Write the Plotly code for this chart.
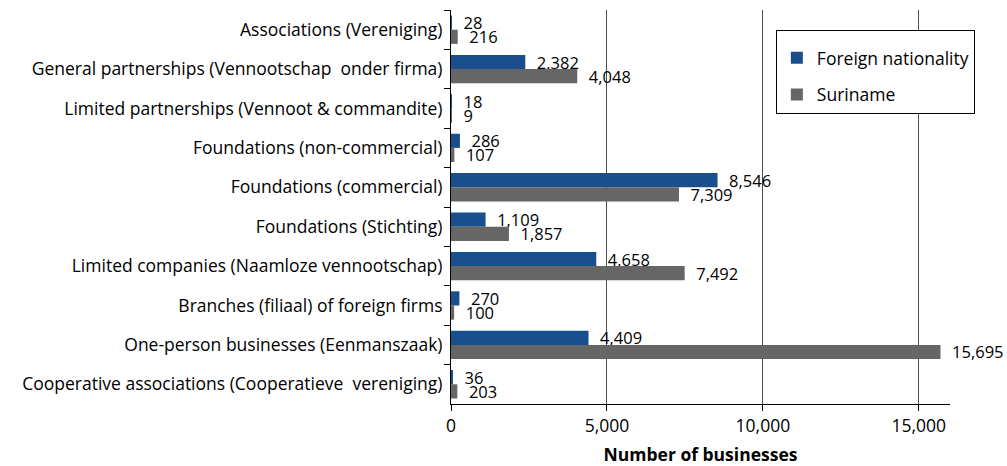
import plotly.graph_objects as go

# categories, top to bottom as in the chart
categories = [
    "Associations (Vereniging)",
    "General partnerships (Vennootschap  onder firma)",
    "Limited partnerships (Vennoot & commandite)",
    "Foundations (non-commercial)",
    "Foundations (commercial)",
    "Foundations (Stichting)",
    "Limited companies (Naamloze vennootschap)",
    "Branches (filiaal) of foreign firms",
    "One-person businesses (Eenmanszaak)",
    "Cooperative associations (Cooperatieve  vereniging)",
]
foreign = [28, 2382, 18, 286, 8546, 1109, 4658, 270, 4409, 36]
suriname = [216, 4048, 9, 107, 7309, 1857, 7492, 100, 15695, 203]

FONT = "Open Sans"
BLUE = "#1a4f8e"
GRAY = "#666666"

fig = go.Figure()

for name, vals, col in [("Foreign nationality", foreign, BLUE), ("Suriname", suriname, GRAY)]:
    fig.add_trace(go.Bar(
        y=categories,
        x=vals,
        orientation="h",
        name=name,
        legendgroup=name,
        marker=dict(color=col, line=dict(width=0)),
        text=["\u00a0\u00a0" + f"{v:,}" for v in vals],
        textposition="outside",
        constraintext="none",
        cliponaxis=False,
        textfont=dict(family=FONT, size=16.5, color="black"),
    ))

fig.update_layout(
    width=1007,
    height=466,
    barmode="group",
    bargap=0.28,
    bargroupgap=0,
    plot_bgcolor="white",
    paper_bgcolor="white",
    margin=dict(l=451, r=57, t=10, b=62),
    font=dict(family=FONT, size=17, color="black"),
    legend=dict(
        x=0.651, y=0.95, xanchor="left", yanchor="top",
        bordercolor="black", borderwidth=1,
        font=dict(family=FONT, size=17.5),
        title=dict(text="\u00a0", font=dict(size=7)),
        tracegroupgap=11,
        bgcolor="white",
    ),
)

fig.update_xaxes(
    range=[0, 16000],
    tickvals=[0, 5000, 10000, 15000],
    tickformat=",",
    showgrid=True,
    gridcolor="#4d4d4d",
    gridwidth=1,
    showline=True,
    linecolor="black",
    linewidth=1,
    ticks="outside",
    ticklen=6,
    tickcolor="black",
    zeroline=False,
    automargin=False,
    tickfont=dict(family=FONT, size=17.5),
    title=dict(text="<b>Number of businesses</b>", font=dict(family=FONT, size=17.5), standoff=12),
)

fig.update_yaxes(
    autorange="reversed",
    showline=True,
    linecolor="black",
    linewidth=1,
    ticks="outside",
    ticklen=6,
    tickcolor="black",
    tickson="boundaries",
    showgrid=False,
    automargin=False,
    tickfont=dict(family=FONT, size=17.5),
    ticklabelstandoff=4,
)

# the page's body has a default 8px margin; drop it so the figure sits at 0,0
fig.write_html(
    "out.html",
    config={"displayModeBar": False},
    post_script="document.body.style.margin='0';",
)
